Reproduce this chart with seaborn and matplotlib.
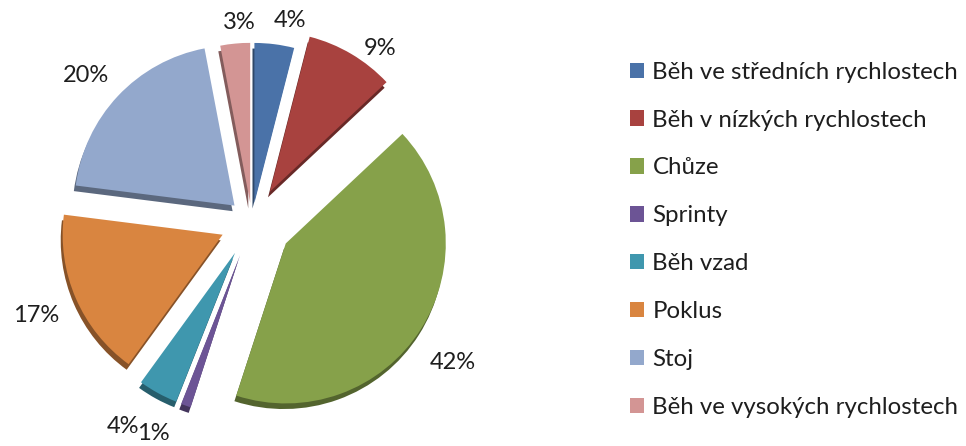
import matplotlib
matplotlib.use("Agg")
import matplotlib.pyplot as plt
from matplotlib.patches import Patch
import matplotlib.colors as mcolors
import numpy as np
import seaborn as sns

categories = ["Běh ve středních rychlostech", "Běh v nízkých rychlostech", "Chůze",
              "Sprinty", "Běh vzad", "Poklus", "Stoj", "Běh ve vysokých rychlostech"]
values = [4, 9, 42, 1, 4, 17, 20, 3]
colors = ["#4A72A8", "#A8423F", "#86A14A", "#6C5495", "#3F97AE", "#D98540", "#93A8CC", "#D39594"]
explode = [0.12, 0.22, 0.25, 0.22, 0.22, 0.2, 0.15, 0.12]
# label placement: distance beyond the exploded wedge and angular nudge (degrees)
label_dist = [1.16, 1.13, 1.28, 1.24, 1.29, 1.27, 1.23, 1.13]
label_turn = [-4, -7, -3, -6, -4, 0, 2, -2]

sns.set_theme(style="white")
plt.rcParams["font.family"] = ["Lato", "DejaVu Sans"]

fig = plt.figure(figsize=(9.66, 4.46), dpi=100)
W, H = 966, 446
cx, cy, half = 252, 222, 200
ax = fig.add_axes([(cx - half) / W, (H - cy - half) / H, 2 * half / W, 2 * half / H])

# darker "side" layer giving a slight 3D look
dark = [tuple(v * 0.62 for v in mcolors.to_rgb(c)) for c in colors]
ax.pie(values, colors=dark, explode=explode, startangle=90, counterclock=False,
       center=(-0.012, -0.035), radius=1.0, wedgeprops=dict(linewidth=0))

wedges, texts, autotexts = ax.pie(
    values, colors=colors, explode=explode, startangle=90, counterclock=False,
    autopct=lambda p: f"{p:.0f}%", pctdistance=1.13, radius=1.0,
    wedgeprops=dict(linewidth=0), textprops=dict(fontsize=17, color="#1e1e1e"))

for w, t, e, d, turn in zip(wedges, autotexts, explode, label_dist, label_turn):
    mid = np.deg2rad((w.theta1 + w.theta2) / 2)
    ex, ey = e * np.cos(mid), e * np.sin(mid)
    a = mid + np.deg2rad(turn)
    t.set_position((ex + d * np.cos(a), ey + d * np.sin(a)))

ax.set_xlim(-1.25, 1.25)
ax.set_ylim(-1.25, 1.25)
ax.set_aspect("equal")
ax.axis("off")

handles = [Patch(facecolor=c, edgecolor="none") for c in colors]
fig.legend(handles, categories, loc="upper left", bbox_to_anchor=(608 / W, 1 - 40 / H),
           frameon=False, fontsize=17.3, labelspacing=1.12, handlelength=0.6,
           handleheight=0.6, handletextpad=0.35, labelcolor="#1e1e1e")

fig.savefig("out.png", dpi=100)
